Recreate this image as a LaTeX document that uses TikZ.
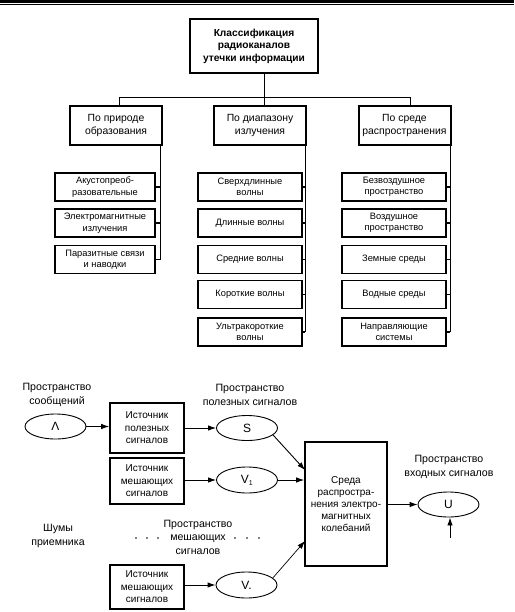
\documentclass[tikz,border=0pt]{standalone}
\usepackage{fontspec}
\setmainfont{Liberation Sans}
\usetikzlibrary{arrows.meta,shapes.geometric}
\begin{document}
\begin{tikzpicture}[x=1pt,y=-1pt,
  every node/.style={inner sep=0pt, align=center},
  titlebox/.style={draw, line width=1.2pt, minimum width=128, minimum height=54, font=\bfseries\fontsize{10.2}{12.5}\selectfont},
  lvlbox/.style={draw, line width=2pt, minimum width=92, minimum height=39, font=\fontsize{10.4}{13}\selectfont},
  leafbox/.style={draw, line width=1.6pt, minimum height=28, font=\fontsize{9.3}{11.5}\selectfont},
  srcbox/.style={draw, line width=1.6pt, minimum width=74, font=\fontsize{10}{12.5}\selectfont},
  sp/.style={draw, ellipse, line width=0.9pt, minimum width=61, minimum height=25, font=\fontsize{12}{14}\selectfont},
  lbl/.style={font=\fontsize{10.6}{13.5}\selectfont},
  dotmark/.style={circle, fill, minimum size=1.8pt},
  conn/.style={line width=0.9pt},
  arr/.style={line width=0.9pt, -{Latex[length=8pt,width=5.5pt]}}
]
\useasboundingbox (0,0) rectangle (514,612);
% top double rule
\draw[line width=2.5pt] (0,1.3) -- (514,1.3);
\draw[line width=0.9pt] (0,4.6) -- (514,4.6);

% ---- classification tree ----
\node[titlebox] (main) at (254,46) {Классификация\\радиоканалов\\утечки информации};
\node[lvlbox] (l1) at (116,125.5) {По природе\\образования};
\node[lvlbox] (l2) at (260,125.5) {По диапазону\\излучения};
\node[lvlbox] (l3) at (404.5,125.5) {По среде\\распространения};

\coordinate (b1) at (119,97);
\coordinate (b2) at (264,97);
\coordinate (b3) at (410,97);
\draw[conn] (main.south -| b2) -- (b2);
\draw[conn] (b1) -- (b3);
\draw[conn] (b1) -- (b1 |- l1.north);
\draw[conn] (b2) -- (b2 |- l2.north);
\draw[conn] (b3) -- (b3 |- l3.north);

\node[leafbox, minimum width=100] (a1) at (105,187) {Акустопреоб-\\разовательные};
\node[leafbox, minimum width=100] (a2) at (105,223) {Электромагнитные\\излучения};
\node[leafbox, minimum width=100] (a3) at (105,259.5) {Паразитные связи\\и наводки};

\node[leafbox, minimum width=104] (m1) at (250,187) {Сверхдлинные\\волны};
\node[leafbox, minimum width=104] (m2) at (250,223) {Длинные волны};
\node[leafbox, minimum width=104] (m3) at (250,259.5) {Средние волны};
\node[leafbox, minimum width=104] (m4) at (250,294.5) {Короткие волны};
\node[leafbox, minimum width=104] (m5) at (250,332) {Ультракороткие\\волны};

\node[leafbox, minimum width=104] (r1) at (394,187) {Безвоздушное\\пространство};
\node[leafbox, minimum width=104] (r2) at (394,223) {Воздушное\\пространство};
\node[leafbox, minimum width=104] (r3) at (394,259.5) {Земные среды};
\node[leafbox, minimum width=104] (r4) at (394,294.5) {Водные среды};
\node[leafbox, minimum width=104] (r5) at (394,332) {Направляющие\\системы};

\coordinate (g1) at (160,0);
\coordinate (g2) at (305,0);
\coordinate (g3) at (450,0);
\draw[conn] (l1.south -| g1) -- (a3.east -| g1);
\draw[conn] (l2.south -| g2) -- (m5.east -| g2);
\draw[conn] (l3.south -| g3) -- (r5.east -| g3);
\foreach \n in {a1,a2,a3} \draw[line width=1.6pt] (\n.east) -- (\n.east -| g1);
\foreach \n in {m1,m2,m3,m4,m5} \draw[line width=1.6pt] (\n.east) -- (\n.east -| g2);
\foreach \n in {r1,r2,r3,r4,r5} \draw[line width=1.6pt] (\n.east) -- (\n.east -| g3);

% ---- signal model ----
\node[lbl] (tmsg) at (57,395) {Пространство\\сообщений};
\node[sp] (lam) at (55.5,426.5) {Λ};
\node[srcbox, minimum height=50] (src1) at (147,428) {Источник\\полезных\\сигналов};
\node[srcbox, minimum height=46] (src2) at (147,481) {Источник\\мешающих\\сигналов};
\node[srcbox, minimum height=44] (src3) at (147,587) {Источник\\мешающих\\сигналов};

\node[lbl] (tuse) at (250,395) {Пространство\\полезных сигналов};
\node[sp] (S) at (247,428) {S};
\node[sp, minimum height=26] (V1) at (247,480) {V\textsubscript{\scriptsize 1}};
\node[sp, minimum height=26] (Vn) at (246.5,585) {V.};

\node[lbl] (noise) at (58,536) {Шумы\\приемника};
\node[lbl] (tint) at (198,537) {Пространство\\мешающих\\сигналов};
\foreach \x [count=\i] in {136,147,158} \node[dotmark] (dl\i) at (\x,538) {};
\foreach \x [count=\i] in {235,247,259} \node[dotmark] (dr\i) at (\x,538) {};

\node[draw, line width=1.6pt, minimum width=82, minimum height=124, font=\fontsize{10}{12.2}\selectfont] (env) at (346,504) {Среда\\распростра-\\нения электро-\\магнитных\\колебаний};

\node[lbl] (tin) at (449,467) {Пространство\\входных сигналов};
\node[sp] (U) at (448.5,504.5) {U};

\coordinate (inS) at (305,470);
\coordinate (inN) at (305,541);
\coordinate (nz) at (450,538);

\draw[arr] (lam) -- (src1.west |- lam);
\draw[arr] (src1) -- (S);
\draw[arr] (src2.east |- V1) -- (V1);
\draw[arr] (src3.east |- Vn) -- (Vn);
\draw[arr] (S.-15) -- (inS);
\draw[arr] (V1) -- (V1 -| env.west);
\draw[arr, line width=0.7pt] (Vn.15) -- (inN);
\draw[arr] (U -| env.east) -- (U);
\draw[arr] (nz) -- (nz |- U.south);
\end{tikzpicture}
\end{document}
